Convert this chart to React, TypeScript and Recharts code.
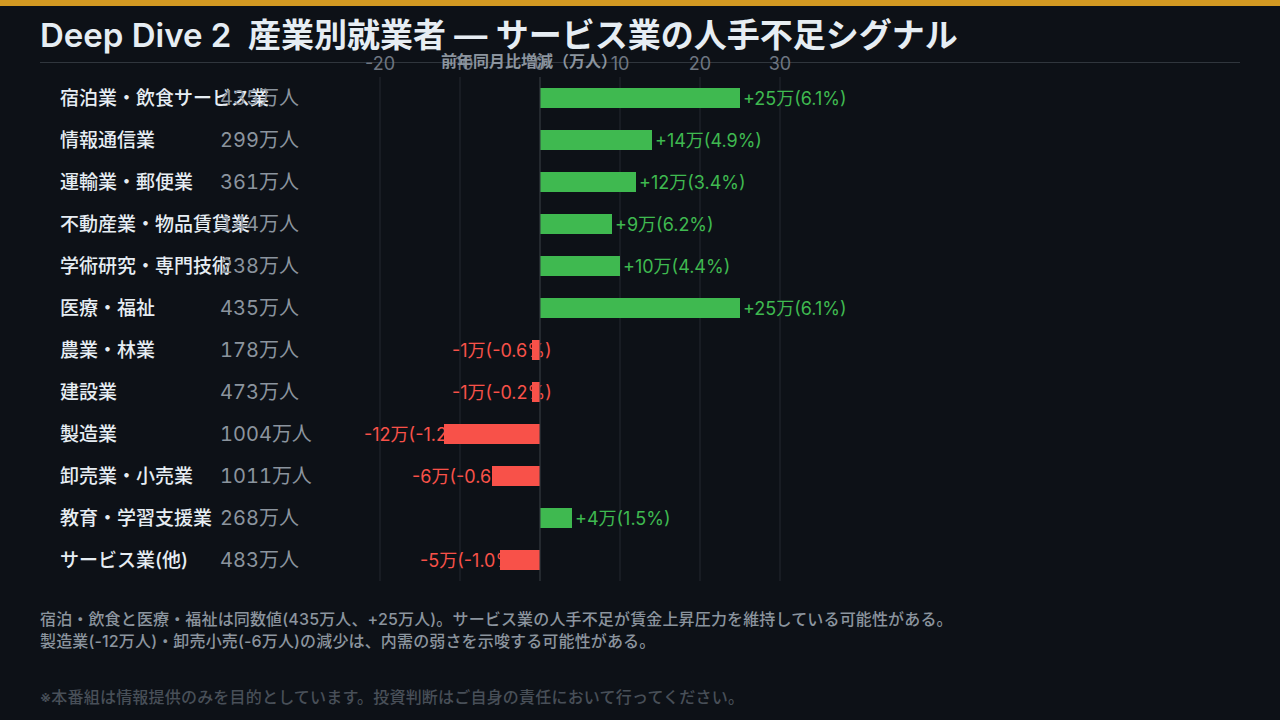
import React from 'react';
import { BarChart, Bar, XAxis, YAxis, CartesianGrid, ReferenceLine } from 'recharts';

const FONT = "Inter, 'Noto Sans CJK JP', sans-serif";

const categories = [
  '宿泊業・飲食サービス業',
  '情報通信業',
  '運輸業・郵便業',
  '不動産業・物品賃貸業',
  '学術研究・専門技術',
  '医療・福祉',
  '農業・林業',
  '建設業',
  '製造業',
  '卸売業・小売業',
  '教育・学習支援業',
  'サービス業(他)',
];
const employed = [435, 299, 361, 144, 238, 435, 178, 473, 1004, 1011, 268, 483];
const changes = [25, 14, 12, 9, 10, 25, -1, -1, -12, -6, 4, -5];
const pcts = ['6.1', '4.9', '3.4', '6.2', '4.4', '6.1', '-0.6', '-0.2', '-1.2', '-0.6', '1.5', '-1.0'];
const xTicks = [-20, -10, 0, 10, 20, 30];

const title = 'Deep Dive 2  産業別就業者 — サービス業の人手不足シグナル';
const axisTitle = '前年同月比増減（万人）';
const notes = [
  '宿泊・飲食と医療・福祉は同数値(435万人、+25万人)。サービス業の人手不足が賃金上昇圧力を維持している可能性がある。',
  '製造業(-12万人)・卸売小売(-6万人)の減少は、内需の弱さを示唆する可能性がある。',
];
const disclaimer = '※本番組は情報提供のみを目的としています。投資判断はご自身の責任において行ってください。';

const GREEN = '#3fb950';
const RED = '#f85149';

const data = categories.map((name, i) => ({
  name,
  count: employed[i],
  change: changes[i],
  pct: pcts[i],
}));

const BarShape = (props: any) => {
  const { x, y, width, height, payload } = props;
  const left = Math.min(x, x + width);
  const w = Math.abs(width);
  const v = payload.change;
  const color = v >= 0 ? GREEN : RED;
  const label = `${v > 0 ? '+' : ''}${v}万(${payload.pct}%)`;
  const tx = v >= 0 ? left + w + 3 : left - 80;
  return (
    <g>
      <text x={tx} y={y + height / 2} dominantBaseline="central" fill={color} fontSize={18} fontFamily={FONT}>
        {label}
      </text>
      <rect x={left} y={y} width={w} height={height} fill={color} />
    </g>
  );
};

const YTick = (props: any) => {
  const { y, payload } = props;
  const i = categories.indexOf(payload.value);
  return (
    <g>
      <text x={60} y={y} dominantBaseline="central" fill="#e6edf3" fontSize={19} fontWeight={500} fontFamily={FONT}>
        {payload.value}
      </text>
      <text
        x={220}
        y={y}
        dominantBaseline="central"
        fill="#8b949e"
        fontSize={20}
        fontFamily={FONT}
        style={{ fontVariantNumeric: 'tabular-nums' }}
      >
        {employed[i]}万人
      </text>
    </g>
  );
};

const XTick = (props: any) => {
  const { x, payload } = props;
  return (
    <text x={x} y={63} textAnchor="middle" dominantBaseline="central" fill="#6e7681" fontSize={18} fontFamily={FONT}>
      {payload.value}
    </text>
  );
};

export default function App() {
  return (
    <div
      style={{
        position: 'fixed',
        left: 0,
        top: 0,
        width: 1280,
        height: 720,
        background: '#0d1117',
        overflow: 'hidden',
        fontFamily: FONT,
      }}
    >
      <div style={{ position: 'absolute', left: 0, top: 0, width: 1280, height: 6, background: '#d29922' }} />
      <div
        style={{
          position: 'absolute',
          left: 40,
          top: 13,
          fontSize: 33,
          fontWeight: 600,
          color: '#e6edf3',
          whiteSpace: 'pre',
          lineHeight: '44px',
        }}
      >
        {title}
      </div>
      <div style={{ position: 'absolute', left: 40, top: 62, width: 1200, height: 1, background: '#30363d' }} />
      <div style={{ position: 'absolute', left: 0, top: 0 }}>
        <BarChart
          width={1280}
          height={720}
          data={data}
          layout="vertical"
          margin={{ top: 47, right: 500, bottom: 139, left: 0 }}
          barSize={20}
        >
          <CartesianGrid horizontal={false} stroke="#242930" />
          <XAxis
            type="number"
            orientation="top"
            domain={[-20, 30]}
            ticks={xTicks}
            height={30}
            axisLine={false}
            tickLine={false}
            tick={XTick}
            interval={0}
          />
          <YAxis
            type="category"
            dataKey="name"
            width={380}
            axisLine={false}
            tickLine={false}
            tick={YTick}
            interval={0}
          />
          <ReferenceLine x={0} stroke="#30363d" />
          <Bar dataKey="change" isAnimationActive={false} shape={BarShape} />
        </BarChart>
      </div>
      <div
        style={{
          position: 'absolute',
          left: 441,
          top: 50,
          fontSize: 16,
          fontWeight: 700,
          color: '#8b949e',
          lineHeight: '22px',
          whiteSpace: 'pre',
        }}
      >
        {axisTitle}
      </div>
      <div
        style={{
          position: 'absolute',
          left: 40,
          top: 608,
          fontSize: 16,
          fontWeight: 500,
          color: '#8b949e',
          lineHeight: '22px',
          whiteSpace: 'pre',
          letterSpacing: 0.15,
        }}
      >
        {notes.map((n) => (
          <div key={n}>{n}</div>
        ))}
      </div>
      <div
        style={{
          position: 'absolute',
          left: 40,
          top: 686,
          fontSize: 16,
          fontWeight: 500,
          color: '#484f58',
          lineHeight: '22px',
          whiteSpace: 'pre',
          letterSpacing: 0.2,
        }}
      >
        {disclaimer}
      </div>
    </div>
  );
}
